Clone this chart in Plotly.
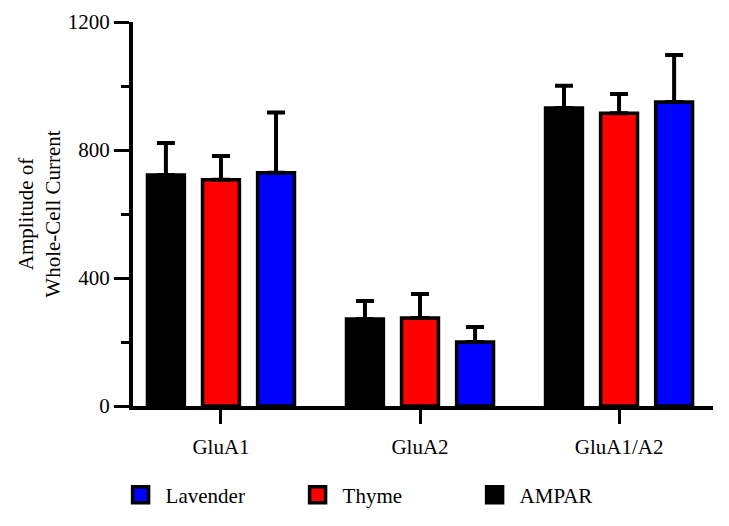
import plotly.graph_objects as go

categories = ["GluA1", "GluA2", "GluA1/A2"]
series_names = ["AMPAR", "Thyme", "Lavender"]
ampar = [722, 272, 931]
ampar_err = [100, 56, 70]
thyme = [707, 275, 915]
thyme_err = [74, 75, 60]
lavender = [729, 200, 950]
lavender_err = [188, 47, 147]
colors = ["#000000", "#ff0000", "#0000ff"]
y_ticks = [0, 400, 800, 1200]

values = [ampar, thyme, lavender]
errors = [ampar_err, thyme_err, lavender_err]

FONT = "Liberation Serif, Times New Roman, serif"

fig = go.Figure()
for name, v, e, c in zip(series_names, values, errors, colors):
    fig.add_trace(go.Bar(
        name=name, x=categories, y=v, showlegend=False,
        marker=dict(color=c, line=dict(color="black", width=3.5)),
        error_y=dict(type="data", symmetric=False, array=e,
                     arrayminus=[0] * len(e), color="black",
                     thickness=4, width=9),
    ))
# legend-only entries (larger square swatches)
for name, c in zip(series_names, colors):
    fig.add_trace(go.Scatter(
        name=name, x=[None], y=[None], mode="markers",
        marker=dict(symbol="square", size=16, color=c,
                    line=dict(color="black", width=3.5)),
    ))

fig.update_layout(
    width=729, height=526,
    margin=dict(l=125, r=24, t=14, b=128, autoexpand=False),
    paper_bgcolor="white", plot_bgcolor="white",
    barmode="group", bargap=0.17, bargroupgap=0.33,
    font=dict(family=FONT, size=21, color="black"),
    showlegend=True,
    legend=dict(orientation="h", traceorder="reversed",
                x=-0.03, xanchor="left", y=-0.232, yanchor="middle",
                font=dict(family=FONT, size=21),
                entrywidth=122, entrywidthmode="pixels",
                itemwidth=40, itemsizing="trace"),
)
fig.update_xaxes(
    range=[-0.442, 2.472], showline=True, linewidth=4, linecolor="black",
    ticks="outside", ticklen=14, tickwidth=3, tickcolor="black",
    showgrid=False, zeroline=False, ticklabelstandoff=5,
    tickfont=dict(family=FONT, size=21),
)
fig.update_yaxes(
    range=[0, 1200], tickvals=y_ticks, showline=True, linewidth=4,
    linecolor="black", ticks="outside", ticklen=15, tickwidth=3,
    tickcolor="black", showgrid=False, zeroline=False,
    minor=dict(tickvals=[200, 600, 1000], ticks="outside", ticklen=8,
               tickwidth=3, tickcolor="black", showgrid=False),
    tickfont=dict(family=FONT, size=21),
    title=dict(text="Amplitude of<br>Whole-Cell Current",
               font=dict(family=FONT, size=21), standoff=2),
)

fig.write_html("out.html")
